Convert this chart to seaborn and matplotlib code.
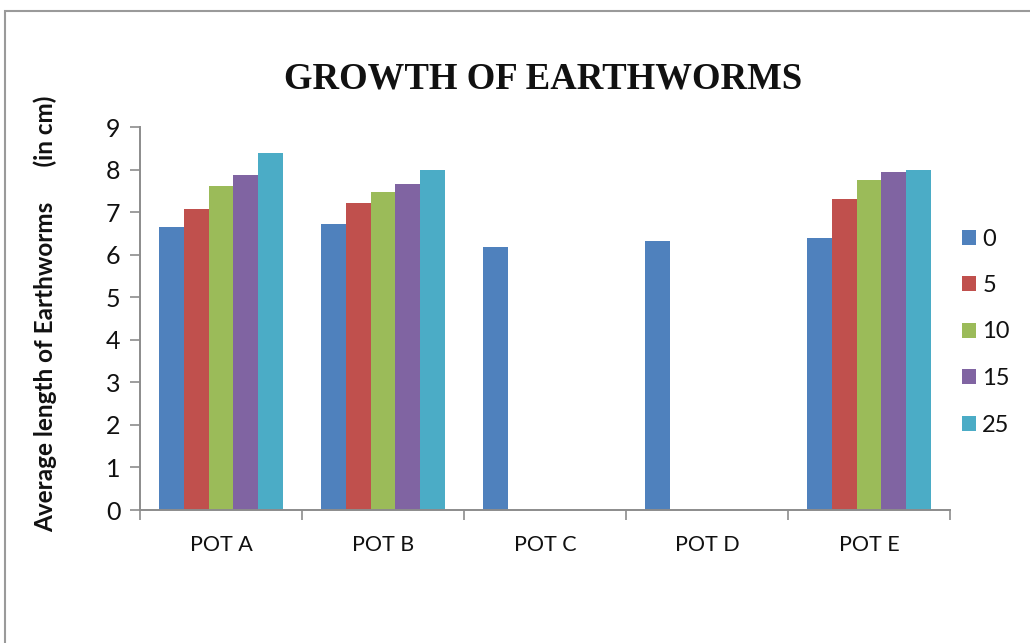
import numpy as np
import pandas as pd
import matplotlib
matplotlib.use("Agg")
import matplotlib.pyplot as plt
import matplotlib.patches as mpatches
from matplotlib.ticker import FixedLocator
import seaborn as sns

# Average earthworm length (cm) per pot, measured on each day
pots = ["POT A", "POT B", "POT C", "POT D", "POT E"]
days = ["0", "5", "10", "15", "25"]
pot_a = [6.64, 7.08, 7.62, 7.88, 8.40]
pot_b = [6.72, 7.22, 7.47, 7.67, 7.98]
pot_c = [6.17]
pot_d = [6.31]
pot_e = [6.38, 7.31, 7.75, 7.95, 7.99]
colors = ["#4F81BD", "#C0504D", "#9BBB59", "#8064A2", "#4BACC6"]
y_ticks = list(range(0, 10))

rows = []
for pot, vals in zip(pots, [pot_a, pot_b, pot_c, pot_d, pot_e]):
    for day, v in zip(days, vals):
        rows.append({"pot": pot, "day": day, "length": v})
df = pd.DataFrame(rows)

sns.set_theme(style="white")
plt.rcParams["font.family"] = ["Lato", "DejaVu Sans"]

W, H = 1030, 643
fig = plt.figure(figsize=(W / 100, H / 100), dpi=100)
ax = fig.add_axes([140 / W, 1 - 510 / H, 810 / W, 383 / H])

sns.barplot(data=df, x="pot", y="length", hue="day", order=pots,
            hue_order=days, palette=colors, width=0.765, errorbar=None,
            saturation=1, linewidth=0, ax=ax)

axis_gray = "#8C8C8C"
ax.set_xlim(-0.5, len(pots) - 0.5)
ax.set_ylim(0, 9)
ax.set_yticks(y_ticks)
ax.set_yticklabels([str(t) for t in y_ticks])
ax.xaxis.set_minor_locator(FixedLocator(np.arange(-0.5, len(pots), 1.0)))
ax.tick_params(axis="x", which="major", length=0, pad=18, labelsize=15.5,
               labelcolor="#111111")
ax.tick_params(axis="x", which="minor", length=7, width=1.2,
               color=axis_gray, direction="out", bottom=True)
ax.tick_params(axis="y", length=7, width=1.2, color=axis_gray,
               direction="out", left=True, pad=7, labelsize=18,
               labelcolor="#111111")
for side in ["top", "right"]:
    ax.spines[side].set_visible(False)
for side in ["left", "bottom"]:
    ax.spines[side].set_color(axis_gray)
    ax.spines[side].set_linewidth(1.4)
ax.set_xlabel("")
ax.set_ylabel("")

# legend on the right with small square keys
handles, labels = ax.get_legend_handles_labels()
ax.get_legend().remove()
fig.legend(handles, labels, loc="center left",
           bbox_to_anchor=(962 / W, 1 - 332 / H), bbox_transform=fig.transFigure,
           frameon=False, fontsize=17, handlelength=0.58, handleheight=0.58,
           handletextpad=0.28, labelspacing=1.08, borderpad=0, borderaxespad=0,
           labelcolor="#111111")

fig.text(543 / W, 1 - 79 / H, "GROWTH OF EARTHWORMS",
         family=["Liberation Serif", "DejaVu Serif"], fontweight="bold",
         fontsize=26.5, ha="center", va="center", color="#111111")
fig.text(45 / W, 1 - 314 / H, "Average length of Earthworms      (in cm)",
         rotation=90, fontweight="bold", fontsize=17.5, ha="center",
         va="center", color="#111111")

# outer chart frame
fig.patches.append(mpatches.Rectangle((5 / W, -0.1), 1.2, 1.1 - 11 / H,
                                      transform=fig.transFigure, fill=False,
                                      edgecolor="#9A9A9A", linewidth=1.5,
                                      clip_on=False))

fig.savefig("out.png", dpi=100)
